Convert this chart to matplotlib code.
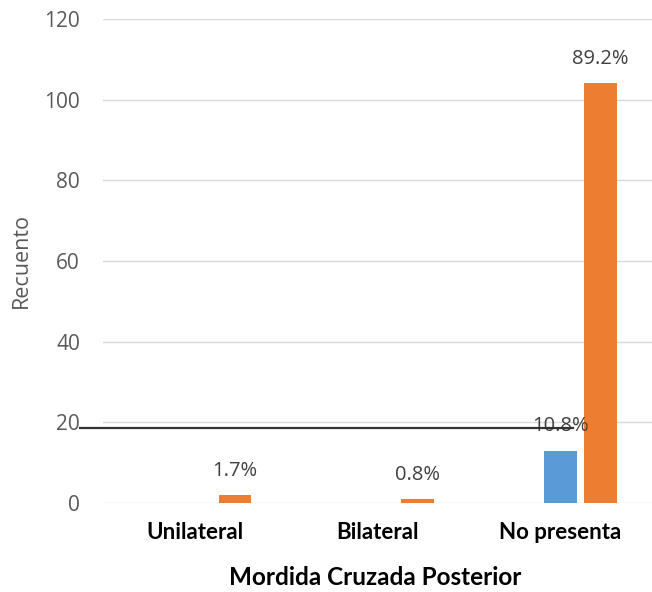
import numpy as np
import matplotlib.pyplot as plt
import matplotlib.transforms as mtransforms

categorias = ['Unilateral', 'Bilateral', 'No presenta']
serie_azul = [0, 0, 13]
serie_naranja = [2, 1, 104]
etiquetas_azul = ['', '', '10.8%']
etiquetas_naranja = ['1.7%', '0.8%', '89.2%']

plt.rcParams['font.family'] = ['Open Sans', 'DejaVu Sans']
negrita = ['Lato', 'DejaVu Sans']

fig = plt.figure(figsize=(6.52, 5.92), dpi=100)
ax = fig.add_axes([0.158, 0.1503, 0.842, 0.8177])

x = np.arange(len(categorias))
ancho = 0.175
desp = 0.2186

ax.bar(x, serie_azul, width=ancho, color='#5B9BD5', zorder=3)
ax.bar(x + desp, serie_naranja, width=ancho, color='#ED7D31', zorder=3)

# porcentajes encima de cada barra
for i in range(len(categorias)):
    if etiquetas_azul[i]:
        ax.text(x[i], serie_azul[i] + 6, etiquetas_azul[i], ha='center', va='center',
                fontsize=14.5, color='#404040', zorder=4)
    ax.text(x[i] + desp, serie_naranja[i] + 6, etiquetas_naranja[i], ha='center', va='center',
            fontsize=14.5, color='#404040', zorder=4)

ax.set_xlim(-0.5, 2.5)
ax.set_ylim(0, 120)
ax.set_yticks(range(0, 121, 20))
ax.grid(axis='y', color='#d9d9d9', linewidth=1, zorder=0)
for s in ax.spines.values():
    s.set_visible(False)
ax.tick_params(axis='both', length=0)
ax.tick_params(axis='y', labelsize=15, labelcolor='#595959', pad=16.5)
ax.set_xticks(x)
ax.set_xticklabels(categorias, fontsize=16, fontweight='bold', color='black', family=negrita)
ax.tick_params(axis='x', pad=14)

ax.set_ylabel('Recuento', fontsize=15.5, color='#595959')
ax.yaxis.label.set_va('center')
ax.yaxis.set_label_coords(-0.148, 0.5)
ax.set_xlabel('Mordida Cruzada Posterior', fontsize=17.5, fontweight='bold', family=negrita)
ax.xaxis.label.set_va('center')
ax.xaxis.set_label_coords(0.496, -0.153)

# línea negra horizontal cerca de 20
trans = mtransforms.blended_transform_factory(ax.transAxes, ax.transData)
ax.plot([-0.042, 0.856], [18.6, 18.6], transform=trans, color='#333333', linewidth=1.6,
        clip_on=False, zorder=5)

fig.savefig('out.png', dpi=100)
